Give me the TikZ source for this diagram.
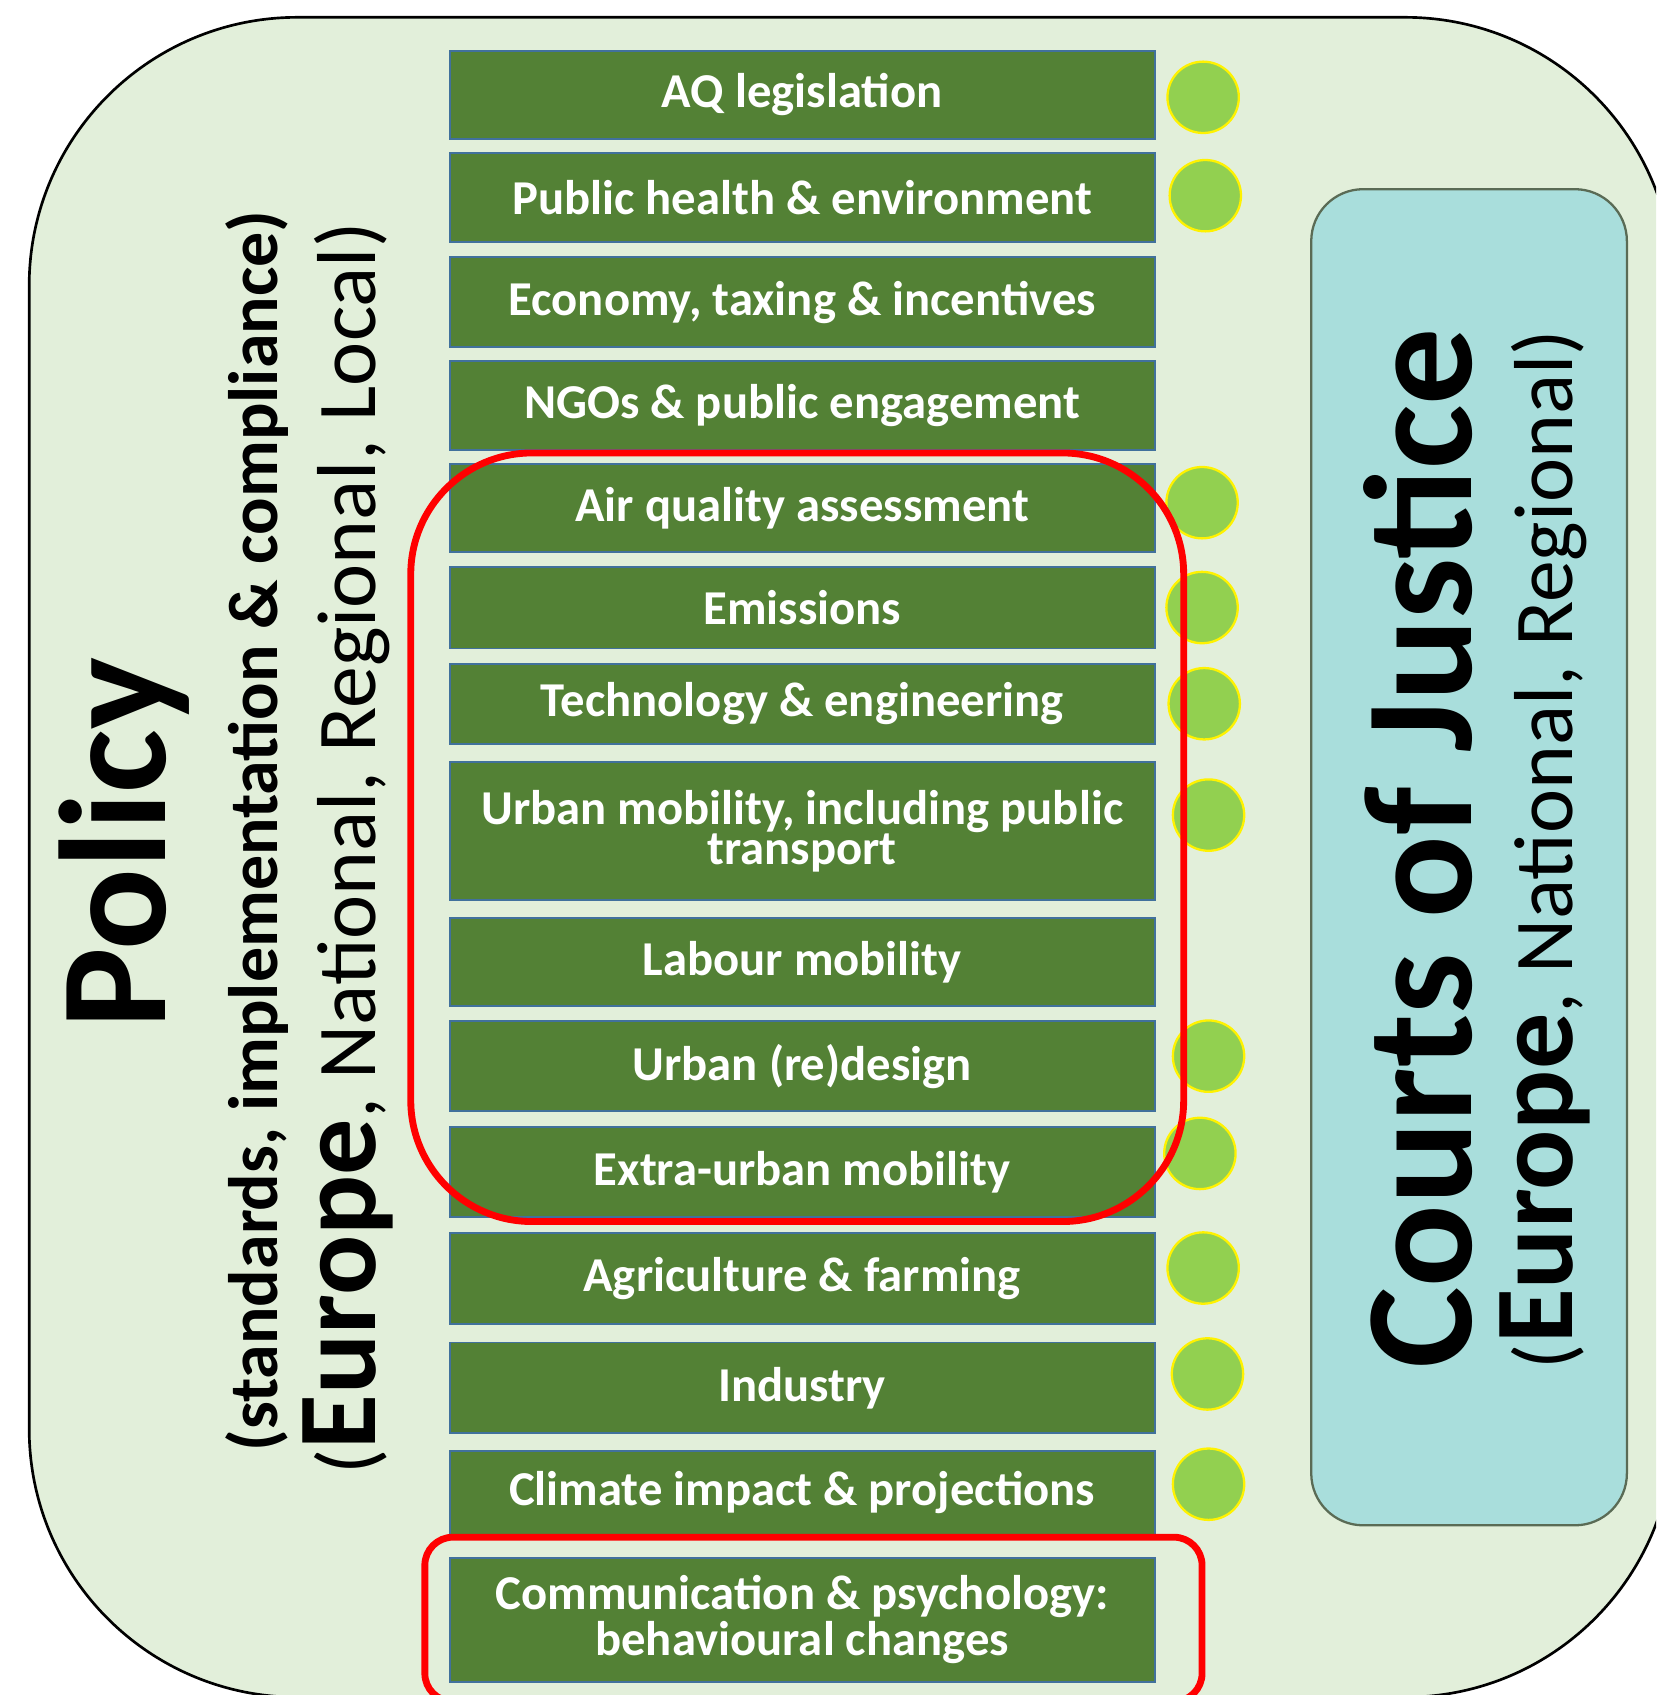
\documentclass[tikz,border=0pt]{standalone}
\usepackage{fontspec}
\setmainfont{Carlito}

\definecolor{policybg}{HTML}{E2EFDA}
\definecolor{topicgreen}{HTML}{538135}
\definecolor{topicline}{HTML}{41719C}
\definecolor{dotgreen}{HTML}{92D050}
\definecolor{courtbg}{HTML}{A9DEDC}
\definecolor{courtline}{HTML}{5A6B55}

\begin{document}
\begin{tikzpicture}[x=0.01cm,y=-0.01cm,
  topic/.style={draw=topicline,line width=0.5pt,fill=topicgreen,text=white,font=\fontsize{12.8}{10.4}\selectfont\bfseries,align=center,minimum width=6.52cm,inner sep=0pt,anchor=north west},
  dot/.style={circle,draw=yellow,line width=0.6pt,fill=dotgreen,minimum size=0.66cm,inner sep=0pt},
  redframe/.style={draw=red,line width=1.8pt},
  sidetext/.style={rotate=90,anchor=base,inner sep=0pt}]
  \clip (0,0) rectangle (1532,1568);
  \draw[fill=policybg,line width=0.7pt,rounded corners=2.48cm] (27,16) rectangle (1548,1570);
  \draw[fill=courtbg,draw=courtline,line width=0.6pt,rounded corners=0.48cm] (1213,175) rectangle (1505,1411);

  % topic boxes: name / top / height / label
  \foreach \id/\ytop/\hgt/\txt in {aq/46/82/{AQ legislation},
      health/141/82/{Public health \& environment},
      economy/237/83/{Economy, taxing \& incentives},
      ngo/333/82/{NGOs \& public engagement},
      aqa/428/82/{Air quality assessment},
      emis/524/75/{Emissions},
      tech/613/74/{Technology \& engineering},
      urban/704/128/{Urban mobility, including public\\transport},
      labour/848/82/{Labour mobility},
      design/944/83/{Urban (re)design},
      extra/1042/83/{Extra-urban mobility},
      agri/1140/84/{Agriculture \& farming},
      industry/1241/84/{Industry},
      climate/1341/78/{Climate impact \& projections},
      comm/1440/115/{Communication \& psychology:\\behavioural changes}}
    \node[topic,minimum height=\hgt*0.01cm] (\id) at (415,\ytop) {\txt};

  % green dots
  \foreach \id/\x/\y in {aq/1113/90,health/1115/181,aqa/1112/465,emis/1112/562,
      tech/1114/651,urban/1118/754,design/1118/977,extra/1110/1067,
      agri/1113/1173,industry/1117/1271,climate/1118/1373}
    \node[dot] (dot-\id) at (\x,\y) {};

  \node[sidetext,font=\fontsize{40}{40}\selectfont\bfseries] (policy) at (153,780) {Policy};
  \node[sidetext,font=\fontsize{18.4}{20}\selectfont\bfseries] (policyscope) at (257,769) {(standards, implementation \& compliance)};
  \node[sidetext,font=\fontsize{22}{24}\selectfont] (policylevels) at (347,785) {({\fontsize{29.5}{30}\selectfont\bfseries Europe}, National, Regional, Local)};
  \node[sidetext,font=\fontsize{40.4}{42}\selectfont\bfseries] (courts) at (1361,785) {Courts of Justice};
  \node[sidetext,font=\fontsize{22}{24}\selectfont] (courtslevels) at (1455,786) {({\fontsize{29.5}{30}\selectfont\bfseries Europe}, National, Regional)};

  \draw[redframe,rounded corners=1.12cm] (380,419) rectangle (1095,1130);
  \draw[redframe,rounded corners=0.26cm] (393,1422) rectangle (1112,1574);
\end{tikzpicture}
\end{document}
